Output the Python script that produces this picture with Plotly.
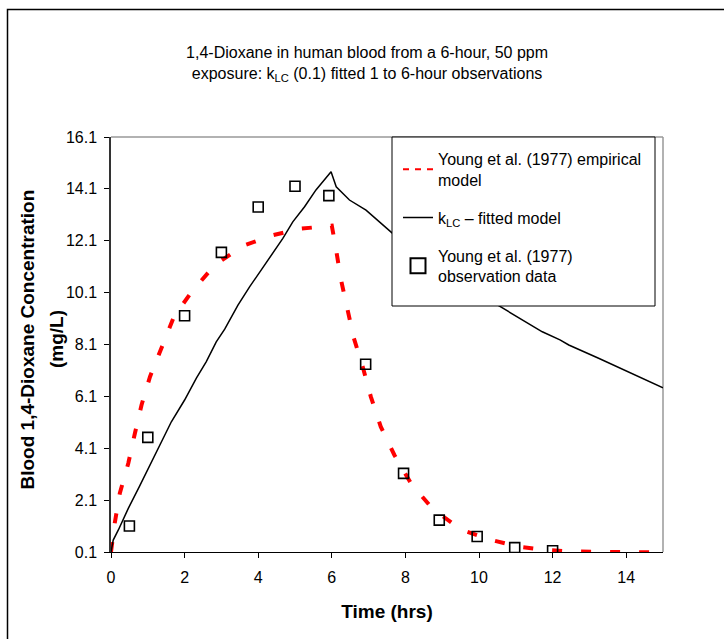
import plotly.graph_objects as go

# Young et al. (1977) observed blood concentrations (mg/L) vs time (hrs)
obs_time = [0.5, 1.0, 2.0, 3.0, 4.0, 5.0, 5.92, 6.92, 7.95, 8.92, 9.95, 10.97, 12.0]
obs_conc = [1.1, 4.52, 9.21, 11.65, 13.4, 14.2, 13.84, 7.34, 3.13, 1.33, 0.7, 0.27, 0.15]

# Young et al. (1977) empirical model curve
emp_time = [0.0, 0.1, 0.24, 0.47, 0.65, 0.83, 1.06, 1.37, 1.71, 2.19, 2.82, 3.58,
            4.36, 5.12, 5.93, 6.0, 6.1, 6.25, 6.43, 6.6, 6.84, 7.06, 7.33, 7.7,
            8.15, 8.73, 9.5, 10.27, 11.08, 11.8, 12.5, 13.5, 14.3, 15.0]
emp_conc = [0.1, 1.2, 2.37, 3.52, 4.68, 5.77, 6.86, 8.01, 9.17, 10.13, 11.16, 11.9,
            12.3, 12.56, 12.68, 12.68, 11.9, 10.6, 9.43, 8.34, 7.24, 6.09, 4.93, 3.84,
            2.75, 1.78, 0.97, 0.59, 0.3, 0.18, 0.12, 0.09, 0.08, 0.08]

# k_LC fitted PBPK model curve
fit_time = [0.0, 0.06, 0.2, 0.47, 0.77, 1.06, 1.37, 1.64, 2.0, 2.32, 2.59, 2.86,
            3.09, 3.45, 3.77, 4.08, 4.4, 4.67, 4.94, 5.26, 5.57, 5.85, 5.98, 6.12,
            6.48, 6.93, 7.38, 8.0, 9.0, 10.0, 10.62, 11.2, 11.72, 12.2, 12.44,
            13.25, 14.15, 15.0]
fit_conc = [0.1, 0.56, 0.95, 1.78, 2.62, 3.45, 4.35, 5.12, 5.96, 6.8, 7.44, 8.2,
            8.69, 9.62, 10.33, 10.97, 11.62, 12.19, 12.83, 13.41, 14.06, 14.57, 14.76, 14.18,
            13.67, 13.28, 12.71, 11.95, 10.9, 10.05, 9.55, 9.05, 8.59, 8.28, 8.08,
            7.57, 6.99, 6.43]

x_ticks = [0, 2, 4, 6, 8, 10, 12, 14]
y_ticks = [0.1, 2.1, 4.1, 6.1, 8.1, 10.1, 12.1, 14.1, 16.1]
y_tick_labels = ["0.1", "2.1", "4.1", "6.1", "8.1", "10.1", "12.1", "14.1", "16.1"]

legend_names = [
    "Young et al. (1977) empirical<br>model",
    "k<sub>LC</sub> – fitted model",
    "Young et al. (1977)<br>observation data",
]

FONT = "Liberation Sans, Arial, sans-serif"

# plot area in pixels (used to place paper-referenced decorations)
L, R, T, B = 111, 663, 137, 552
W, H = R - L, B - T


def px_x(p):
    return (p - L) / W


def px_y(p):
    return (B - p) / H


fig = go.Figure()

# empirical model
fig.add_trace(go.Scatter(
    x=emp_time, y=emp_conc, mode="lines", legendgroup="emp", showlegend=False,
    line=dict(color="#FF0000", width=4, dash="10px,19px"),
))
fig.add_trace(go.Scatter(
    x=[None], y=[None], mode="lines", legendgroup="emp", name=legend_names[0],
    line=dict(color="#FF0000", width=2, dash="6px,6px"),
))
# fitted model
fig.add_trace(go.Scatter(
    x=fit_time, y=fit_conc, mode="lines", legendgroup="fit", name=legend_names[1],
    line=dict(color="black", width=1.5),
))
# observations
fig.add_trace(go.Scatter(
    x=obs_time, y=obs_conc, mode="markers", legendgroup="obs", showlegend=False,
    marker=dict(symbol="square-open", size=10, color="black", line=dict(width=1.6, color="black")),
))
fig.add_trace(go.Scatter(
    x=[None], y=[None], mode="markers", legendgroup="obs", name=legend_names[2],
    marker=dict(symbol="square-open", size=15, color="black", line=dict(width=2, color="black")),
))

fig.update_layout(
    width=724, height=639,
    margin=dict(l=L, r=724 - R, t=T, b=639 - B),
    paper_bgcolor="white", plot_bgcolor="white",
    font=dict(family=FONT, size=16, color="black"),
    title=dict(
        text="1,4-Dioxane in human blood from a 6-hour, 50 ppm<br>"
             "exposure: k<sub>LC</sub> (0.1) fitted 1 to 6-hour observations",
        x=0.507, xref="container", xanchor="center",
        y=1 - 58 / 639, yref="container", yanchor="top",
        font=dict(family=FONT, size=16, color="black"),
    ),
    xaxis=dict(
        range=[0, 15], tickvals=x_ticks, ticks="outside", ticklen=5,
        tickcolor="black", showline=True, linecolor="black", linewidth=1,
        showgrid=False, zeroline=False, ticklabelstandoff=6,
        tickfont=dict(family=FONT, size=16),
        title=dict(text="<b>Time (hrs)</b>", font=dict(family=FONT, size=19), standoff=19),
    ),
    yaxis=dict(
        range=[0.1, 16.1], tickvals=y_ticks, ticktext=y_tick_labels,
        ticks="outside", ticklen=5, tickcolor="black",
        showline=True, linecolor="#333333", linewidth=1.5,
        showgrid=False, zeroline=False, ticklabelstandoff=4,
        tickfont=dict(family=FONT, size=16),
    ),
    legend=dict(
        x=px_x(398), y=1 - 5 / H, xanchor="left", yanchor="top",
        bgcolor="rgba(0,0,0,0)", borderwidth=0,
        font=dict(family=FONT, size=16), tracegroupgap=14,
    ),
    showlegend=True,
)

# y-axis title, two centred lines
for text, cx in (("<b>Blood 1,4-Dioxane Concentration</b>", 26.5), ("<b>(mg/L)</b>", 56)):
    fig.add_annotation(
        text=text, textangle=-90,
        xref="paper", yref="paper", x=px_x(cx), y=px_y(339),
        xanchor="center", yanchor="middle", showarrow=False,
        font=dict(family=FONT, size=19),
    )

# plot-area frame (top and right) in grey
fig.add_shape(type="line", xref="paper", yref="paper", x0=0, x1=1, y0=1, y1=1,
              line=dict(color="#999999", width=1.5), layer="below")
fig.add_shape(type="line", xref="paper", yref="paper", x0=1, x1=1, y0=0, y1=1,
              line=dict(color="#999999", width=1.5), layer="below")
# legend box, opaque over the curves
fig.add_shape(type="rect", xref="paper", yref="paper",
              x0=px_x(392), x1=px_x(655), y0=px_y(306), y1=px_y(137),
              line=dict(color="black", width=1), fillcolor="white", layer="above")
# outer chart border
fig.add_shape(type="rect", xref="paper", yref="paper",
              x0=px_x(7.5), x1=px_x(740), y0=px_y(660), y1=px_y(9.5),
              line=dict(color="black", width=1.5), fillcolor="rgba(0,0,0,0)", layer="below")

fig.write_html("out.html")
